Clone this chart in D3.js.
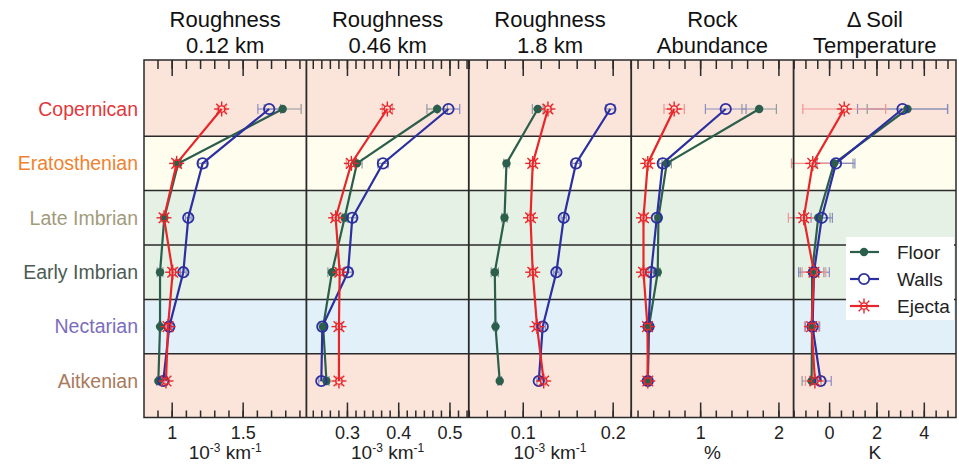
<!DOCTYPE html>
<html>
<head>
<meta charset="utf-8">
<script src="https://cdn.jsdelivr.net/npm/d3@7"></script>
<style>
  body { margin: 0; background: #fff; }
  svg { font-family: "Liberation Sans", Arial, sans-serif; }
</style>
</head>
<body>
<svg id="chart" width="959" height="465"></svg>
<script>
// crater age classes, top to bottom
var eras = ["Copernican", "Eratosthenian", "Late Imbrian", "Early Imbrian", "Nectarian", "Aitkenian"];
var eraColors = ["#e2383c", "#f0822f", "#a29b7b", "#4b5b53", "#7b6dbd", "#a97a5c"];
var bandColors = ["#fbe4da", "#fefdee", "#e6f1e5", "#e6f1e5", "#e2f1f9", "#fbe4da"];

var seriesNames = ["Floor", "Walls", "Ejecta"];
var seriesColors = ["#2b5e4b", "#2b2f9f", "#e8262a"];
var errColors = ["#8d999d", "#8b8dc2", "#f19393"];

var titleTop = ["Roughness", "Roughness", "Roughness", "Rock", "\u0394 Soil"];
var titleBottom = ["0.12 km", "0.46 km", "1.8 km", "Abundance", "Temperature"];
var unitLabels = ["10^-3 km^-1", "10^-3 km^-1", "10^-3 km^-1", "%", "K"];

var xDomains = [[0.805, 1.949], [0.2209, 0.5377], [0.04, 0.2206], [0.119, 2.194], [-1.5, 5.36]];
var majorTicks = [[1, 1.5], [0.3, 0.4, 0.5], [0.1, 0.2], [1, 2], [0, 2, 4]];
var minorSteps = [0.1, 1 / 60, 0.02, 0.2, 0.5];

// roughness 0.12 km
var r012Floor = [1.782, 1.046, 0.948, 0.918, 0.918, 0.906];
var r012Walls = [1.687, 1.218, 1.117, 1.082, 0.983, 0.941];
var r012Ejecta = [1.352, 1.035, 0.946, 1.007, 0.974, 0.960];
var r012FloorErr = [0.13, 0.02, 0.01, 0.02, 0.01, 0.01];
var r012WallsErr = [0.08, 0.03, 0.02, 0.02, 0.02, 0.01];
var r012EjectaErr = [0.03, 0.02, 0.02, 0.02, 0.01, 0.01];

// roughness 0.46 km
var r046Floor = [0.476, 0.3195, 0.2955, 0.2708, 0.2536, 0.260];
var r046Walls = [0.498, 0.3702, 0.3105, 0.302, 0.252, 0.250];
var r046Ejecta = [0.3788, 0.3086, 0.278, 0.2858, 0.2844, 0.2844];
var r046FloorErr = [0.02, 0.01, 0.005, 0.008, 0.005, 0.005];
var r046WallsErr = [0.022, 0.01, 0.008, 0.008, 0.006, 0.005];
var r046EjectaErr = [0.01, 0.01, 0.008, 0.008, 0.005, 0.005];

// roughness 1.8 km
var r18Floor = [0.1167, 0.0819, 0.0797, 0.0689, 0.0697, 0.0744];
var r18Walls = [0.1974, 0.1592, 0.1456, 0.1374, 0.1222, 0.1178];
var r18Ejecta = [0.128, 0.1111, 0.1086, 0.1111, 0.1159, 0.1233];
var r18FloorErr = [0.006, 0.003, 0.003, 0.004, 0.002, 0.002];
var r18WallsErr = [0.005, 0.004, 0.003, 0.003, 0.003, 0.002];
var r18EjectaErr = [0.004, 0.003, 0.003, 0.003, 0.002, 0.002];

// rock abundance, %
var rockFloor = [1.754, 0.573, 0.467, 0.458, 0.346, 0.331];
var rockWalls = [1.327, 0.522, 0.446, 0.374, 0.340, 0.331];
var rockEjecta = [0.668, 0.331, 0.276, 0.276, 0.327, 0.331];
var rockFloorErr = [0.22, 0.06, 0.03, 0.03, 0.02, 0.02];
var rockWallsErr = [0.26, 0.05, 0.03, 0.03, 0.02, 0.02];
var rockEjectaErr = [0.13, 0.03, 0.03, 0.03, 0.02, 0.02];

// delta soil temperature, K
var tempFloor = [3.31, 0.21, -0.46, -0.72, -0.72, -0.74];
var tempWalls = [3.10, 0.29, -0.31, -0.64, -0.70, -0.36];
var tempEjecta = [0.64, -0.69, -1.07, -0.64, -0.74, -0.60];
var tempFloorErr = [1.7, 0.8, 0.5, 0.5, 0.3, 0.4];
var tempWallsErr = [1.9, 0.8, 0.45, 0.65, 0.3, 0.45];
var tempEjectaErr = [1.75, 0.9, 0.65, 0.5, 0.3, 0.4];

var panelValues = [
    [r012Floor, r012Walls, r012Ejecta],
    [r046Floor, r046Walls, r046Ejecta],
    [r18Floor, r18Walls, r18Ejecta],
    [rockFloor, rockWalls, rockEjecta],
    [tempFloor, tempWalls, tempEjecta]
];
var panelErrors = [
    [r012FloorErr, r012WallsErr, r012EjectaErr],
    [r046FloorErr, r046WallsErr, r046EjectaErr],
    [r18FloorErr, r18WallsErr, r18EjectaErr],
    [rockFloorErr, rockWallsErr, rockEjectaErr],
    [tempFloorErr, tempWallsErr, tempEjectaErr]
];

var plotLeft = 144, pw = 162.4, plotTop = 60, plotBottom = 417.5;
var plotRight = plotLeft + 5 * pw;
var ink = "#2a2a2a";

var svg = d3.select("#chart");

var y = d3.scalePoint().domain(eras).range([109, 381]);
var step = y.step();

function bandTop(i) { return i == 0 ? plotTop : y(eras[i]) - step / 2; }
function bandBottom(i) { return i == eras.length - 1 ? plotBottom : y(eras[i]) + step / 2; }

// row backgrounds
svg.append("g").selectAll("rect")
    .data(eras)
    .join("rect")
    .attr("x", plotLeft)
    .attr("width", plotRight - plotLeft)
    .attr("y", function(d, i) { return bandTop(i); })
    .attr("height", function(d, i) { return bandBottom(i) - bandTop(i); })
    .attr("fill", function(d, i) { return bandColors[i]; });

// row labels
svg.append("g").selectAll("text")
    .data(eras)
    .join("text")
    .attr("x", 138)
    .attr("y", function(d) { return y(d); })
    .attr("dy", "0.35em")
    .attr("text-anchor", "end")
    .style("font-size", "19.5px")
    .attr("fill", function(d, i) { return eraColors[i]; })
    .text(function(d) { return d; });

// row separators
svg.append("g").selectAll("line")
    .data(eras.slice(0, -1))
    .join("line")
    .attr("x1", plotLeft).attr("x2", plotRight)
    .attr("y1", function(d, i) { return bandBottom(i); })
    .attr("y2", function(d, i) { return bandBottom(i); })
    .attr("stroke", ink)
    .attr("stroke-width", 1.5);

function minorValues(i) {
    var dom = xDomains[i], s = minorSteps[i], m0 = majorTicks[i][0];
    var out = [];
    var k0 = Math.ceil((dom[0] - m0) / s - 1e-6), k1 = Math.floor((dom[1] - m0) / s + 1e-6);
    for (var k = k0; k <= k1; k++) out.push(m0 + k * s);
    return out;
}

function unitText(sel, str) {
    var parts = str.split(/(\^-?\d+)/);
    parts.forEach(function(p) {
        if (!p) return;
        if (p[0] == "^") {
            sel.append("tspan").attr("baseline-shift", "super").style("font-size", "12px").text(p.slice(1));
        } else {
            sel.append("tspan").text(p);
        }
    });
}

function ejectaMarker(g, cx, cy, color) {
    var m = g.append("g").attr("transform", "translate(" + cx + "," + cy + ")");
    for (var a = 0; a < 8; a++) {
        var ang = a * Math.PI / 4;
        m.append("line")
            .attr("x1", Math.cos(ang) * 3).attr("y1", Math.sin(ang) * 3)
            .attr("x2", Math.cos(ang) * 7.5).attr("y2", Math.sin(ang) * 7.5)
            .attr("stroke", color).attr("stroke-width", 1.4);
    }
    m.append("circle").attr("r", 3.2).attr("fill", "none").attr("stroke", color).attr("stroke-width", 1.3);
}

function drawPanel(i) {
    var g = svg.append("g").attr("transform", "translate(" + (plotLeft + i * pw) + ",0)");
    var x = d3.scaleLinear().domain(xDomains[i]).range([0, pw]);
    var cx = pw / 2;

    // titles
    g.append("text").attr("x", cx).attr("y", 27).attr("text-anchor", "middle")
        .style("font-size", "22px").attr("fill", "#111").text(titleTop[i]);
    g.append("text").attr("x", cx).attr("y", 53).attr("text-anchor", "middle")
        .style("font-size", "22px").attr("fill", "#111").text(titleBottom[i]);

    // axes: ticks inside, top and bottom
    var minors = minorValues(i);
    g.append("g").attr("transform", "translate(0," + plotBottom + ")")
        .call(d3.axisBottom(x).tickValues(minors).tickSize(-7).tickFormat(""))
        .call(function(a) { a.select(".domain").remove(); a.selectAll("line").attr("stroke", ink).attr("stroke-width", 1.5); });
    g.append("g").attr("transform", "translate(0," + plotBottom + ")")
        .call(d3.axisBottom(x).tickValues(majorTicks[i]).tickSize(-15).tickPadding(9).tickFormat(d3.format("")))
        .call(function(a) {
            a.select(".domain").remove();
            a.selectAll("line").attr("stroke", ink).attr("stroke-width", 1.5);
            a.selectAll("text").style("font-size", "18px").style("font-family", "inherit").attr("fill", "#222");
        });
    g.append("g").attr("transform", "translate(0," + plotTop + ")")
        .call(d3.axisTop(x).tickValues(minors).tickSize(-9).tickFormat(""))
        .call(function(a) { a.select(".domain").remove(); a.selectAll("line").attr("stroke", ink).attr("stroke-width", 1.5); });
    g.append("g").attr("transform", "translate(0," + plotTop + ")")
        .call(d3.axisTop(x).tickValues(majorTicks[i]).tickSize(-16).tickFormat(""))
        .call(function(a) { a.select(".domain").remove(); a.selectAll("line").attr("stroke", ink).attr("stroke-width", 1.5); });

    // unit label
    var u = g.append("text").attr("x", cx).attr("y", 459).attr("text-anchor", "middle")
        .style("font-size", "19px").attr("fill", "#222");
    unitText(u, unitLabels[i]);

    // error bars
    seriesNames.forEach(function(s, si) {
        var vals = panelValues[i][si], errs = panelErrors[i][si];
        var eg = g.append("g").attr("stroke", errColors[si]).attr("stroke-width", 1.2);
        eras.forEach(function(era, k) {
            var x0 = x(vals[k] - errs[k]), x1 = x(vals[k] + errs[k]), yy = y(era);
            eg.append("line").attr("x1", x0).attr("x2", x1).attr("y1", yy).attr("y2", yy);
            eg.append("line").attr("x1", x0).attr("x2", x0).attr("y1", yy - 5).attr("y2", yy + 5);
            eg.append("line").attr("x1", x1).attr("x2", x1).attr("y1", yy - 5).attr("y2", yy + 5);
        });
    });

    // lines and markers
    seriesNames.forEach(function(s, si) {
        var vals = panelValues[i][si];
        var line = d3.line()
            .x(function(d, k) { return x(d); })
            .y(function(d, k) { return y(eras[k]); });
        g.append("path").datum(vals)
            .attr("d", line)
            .attr("fill", "none")
            .attr("stroke", seriesColors[si])
            .attr("stroke-width", 2.2);
    });
    seriesNames.forEach(function(s, si) {
        var vals = panelValues[i][si];
        vals.forEach(function(v, k) {
            var px = x(v), py = y(eras[k]);
            if (si == 0) {
                g.append("circle").attr("cx", px).attr("cy", py).attr("r", 4.2).attr("fill", seriesColors[si]);
            } else if (si == 1) {
                g.append("circle").attr("cx", px).attr("cy", py).attr("r", 5.2)
                    .attr("fill", "none").attr("stroke", seriesColors[si]).attr("stroke-width", 1.8);
            } else {
                ejectaMarker(g, px, py, seriesColors[si]);
            }
        });
    });
}

for (var p = 0; p < 5; p++) drawPanel(p);

// frame and panel dividers
svg.append("rect")
    .attr("x", plotLeft).attr("y", plotTop)
    .attr("width", plotRight - plotLeft).attr("height", plotBottom - plotTop)
    .attr("fill", "none").attr("stroke", ink).attr("stroke-width", 1.5);
svg.append("g").selectAll("line")
    .data(d3.range(1, 5))
    .join("line")
    .attr("x1", function(d) { return plotLeft + d * pw; })
    .attr("x2", function(d) { return plotLeft + d * pw; })
    .attr("y1", plotTop).attr("y2", plotBottom)
    .attr("stroke", ink).attr("stroke-width", 1.8);

// legend
var lg = svg.append("g");
lg.append("rect").attr("x", 846).attr("y", 237).attr("width", 108).attr("height", 83).attr("fill", "#fff");
seriesNames.forEach(function(s, si) {
    var ly = [252, 279, 306][si];
    lg.append("line").attr("x1", 850).attr("x2", 879).attr("y1", ly).attr("y2", ly)
        .attr("stroke", seriesColors[si]).attr("stroke-width", 2.2);
    if (si == 0) {
        lg.append("circle").attr("cx", 864).attr("cy", ly).attr("r", 4.2).attr("fill", seriesColors[si]);
    } else if (si == 1) {
        lg.append("circle").attr("cx", 864).attr("cy", ly).attr("r", 5.2)
            .attr("fill", "#fff").attr("stroke", seriesColors[si]).attr("stroke-width", 1.8);
    } else {
        ejectaMarker(lg, 864, ly, seriesColors[si]);
    }
    lg.append("text").attr("x", 897).attr("y", ly).attr("dy", "0.35em")
        .style("font-size", "19px").attr("fill", "#222").text(s);
});
</script>
</body>
</html>
